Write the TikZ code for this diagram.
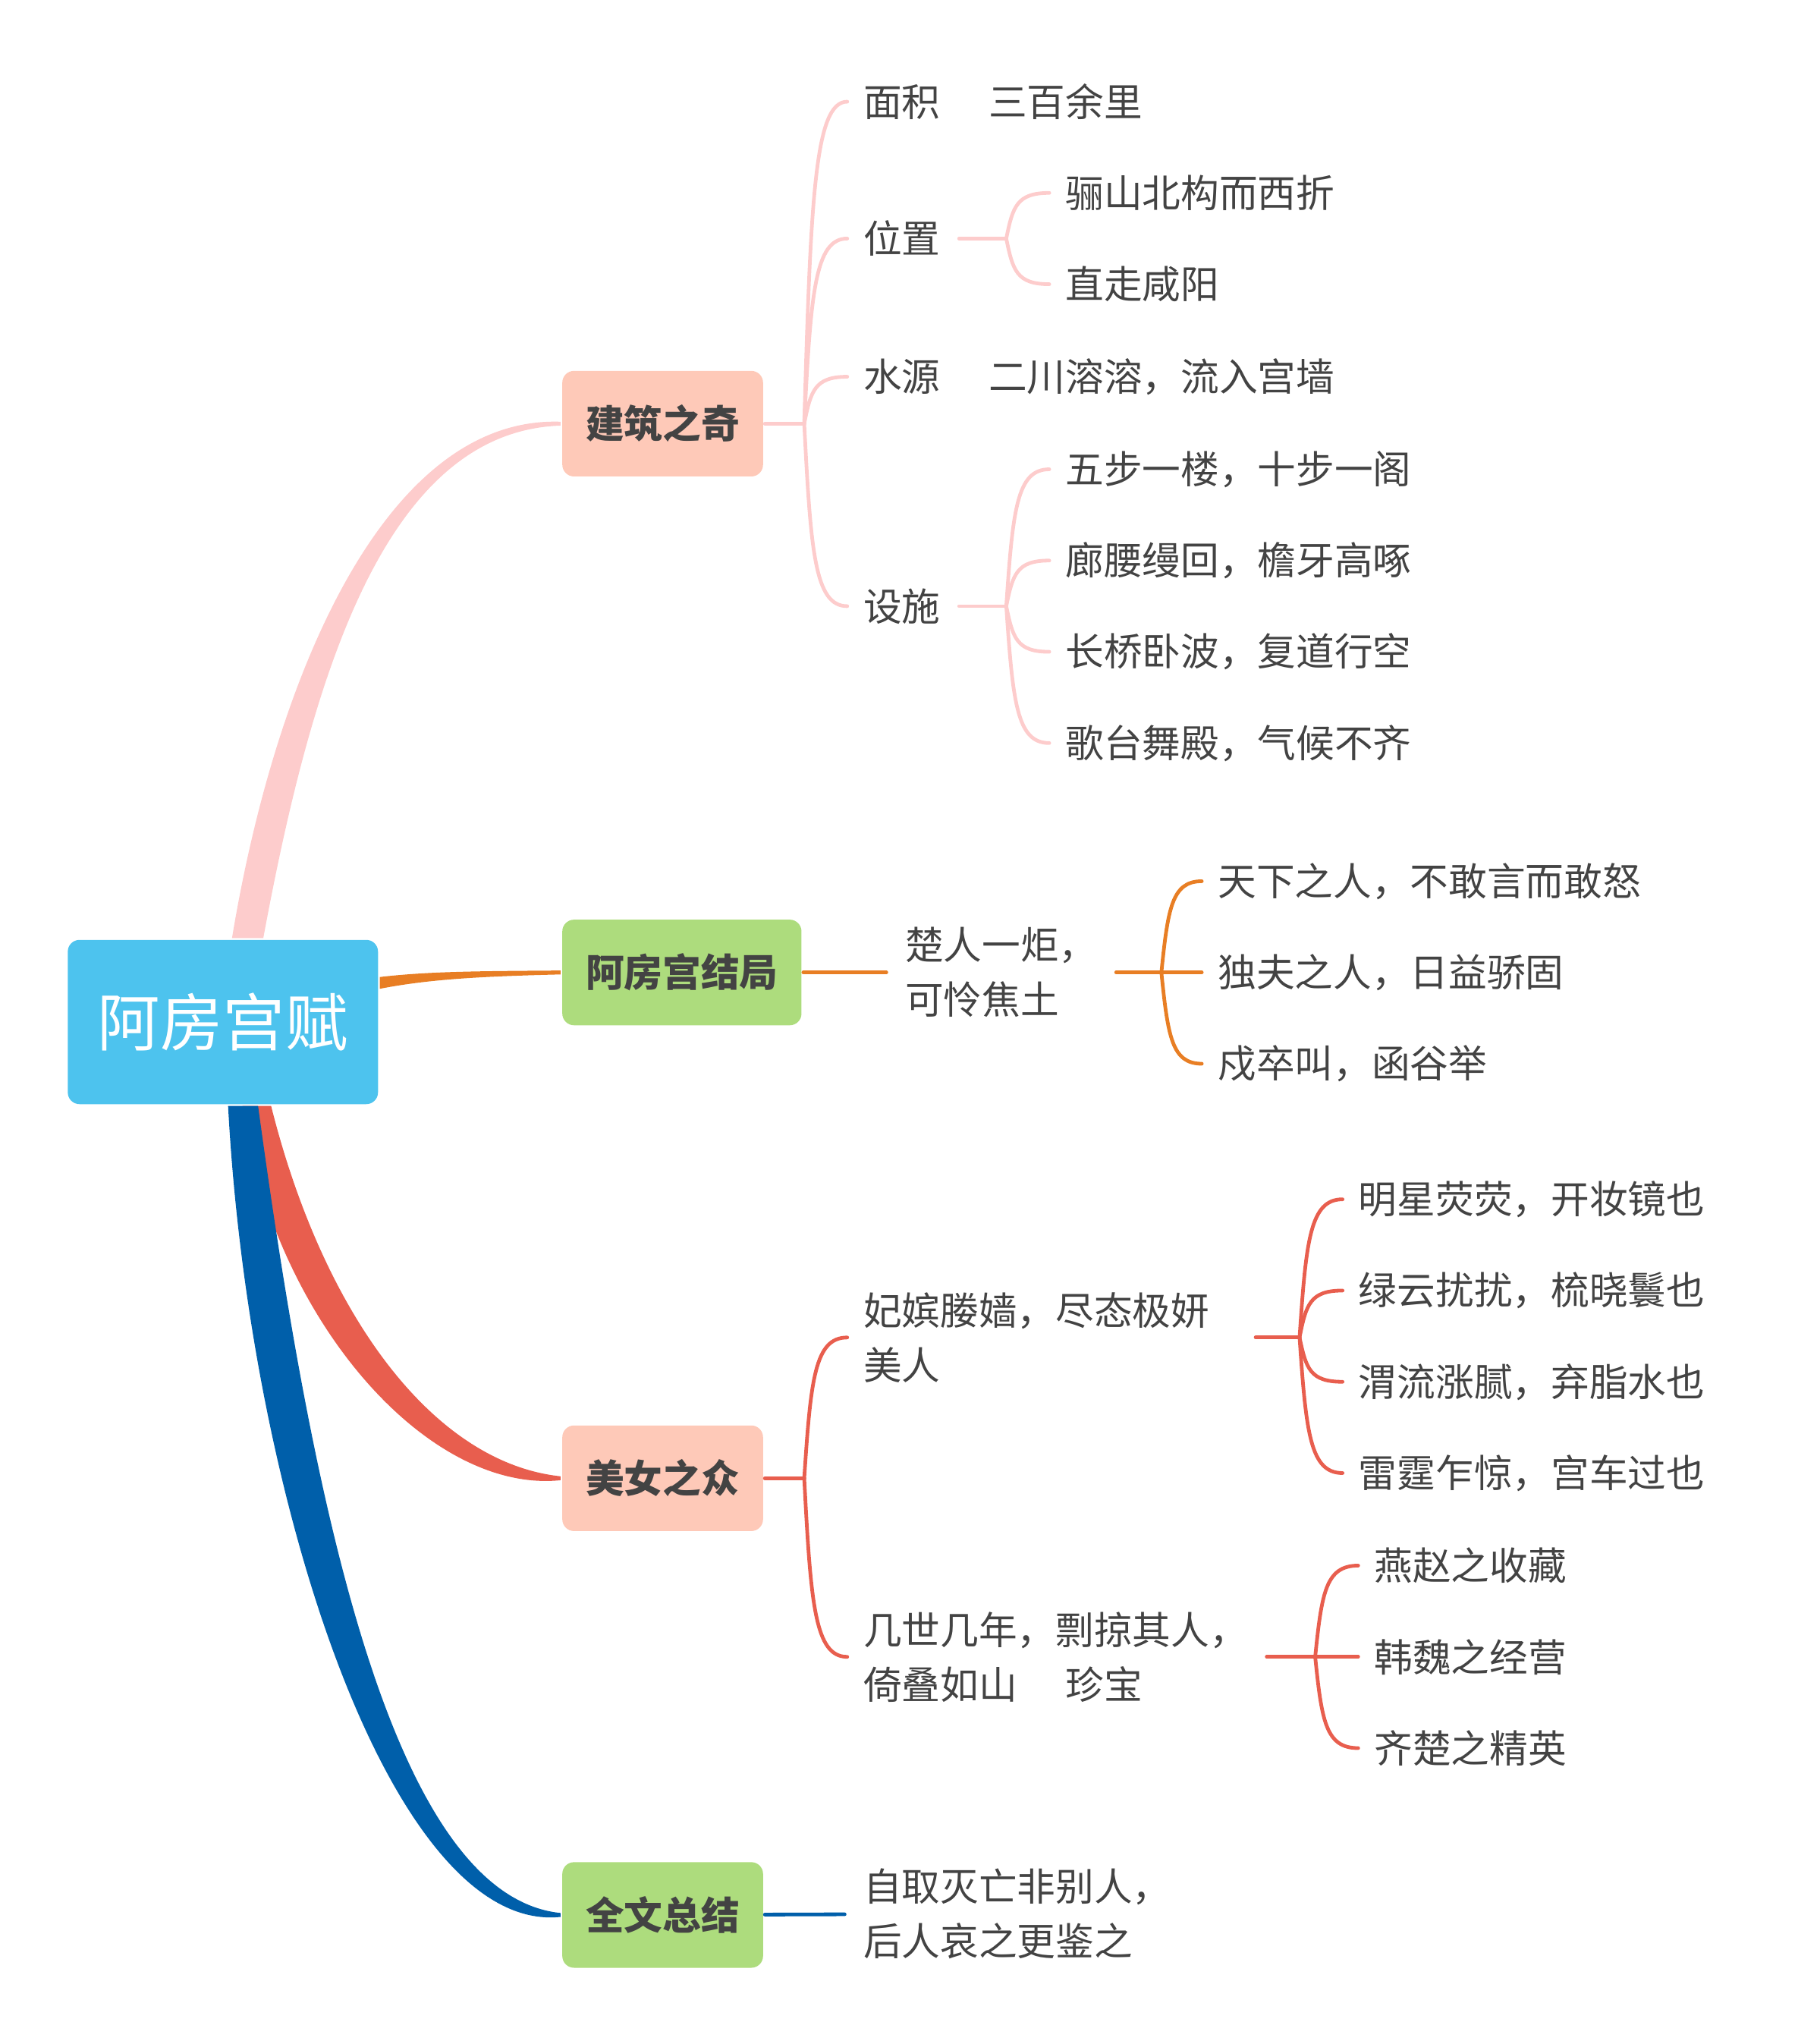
\documentclass[tikz,border=0pt]{standalone}
\usepackage{fontspec}
\newfontfamily\cjk{Noto Sans CJK SC}
\usetikzlibrary{calc}
\definecolor{rootblue}{HTML}{4DC3EE}
\definecolor{peach}{HTML}{FEC9B8}
\definecolor{leafgreen}{HTML}{ADDC7D}
\definecolor{pinkline}{HTML}{FDCCCC}
\definecolor{orangeline}{HTML}{E87E24}
\definecolor{redline}{HTML}{E85E4E}
\definecolor{blueline}{HTML}{005FAA}
\definecolor{ink}{HTML}{434343}

\begin{document}
\begin{tikzpicture}[x=1pt,y=-1pt,line width=2.8pt,line cap=round,
  root node/.style={fill=rootblue,rounded corners=9pt,text=white,minimum width=238pt,minimum height=126pt,font=\cjk\fontsize{48}{56}\selectfont},
  main node/.style={anchor=west,rounded corners=9pt,text=ink,minimum height=81pt,inner xsep=18pt,font=\cjk\bfseries\fontsize{29.5}{35}\selectfont},
  leaf/.style={anchor=west,inner xsep=13pt,inner ysep=0pt,align=left,text=ink,font=\cjk\fontsize{29.5}{42}\selectfont},
  twig/.style={to path={.. controls ($(\tikztostart)!.7!(\tikztostart |- \tikztotarget)+(5,0)$) and ($(\tikztostart |- \tikztotarget)+(8,0)$) .. ([xshift=2pt]\tikztotarget)}}]

  \useasboundingbox (0,0) rectangle (1379,1568);

  \node[root node] (root) at (171,784) {阿房宫赋};
  \node[main node,fill=peach]     (build) at (430,325)  {建筑之奇};
  \node[main node,fill=leafgreen] (fate)  at (430,746)  {阿房宫结局};
  \node[main node,fill=peach]     (belle) at (430,1134) {美女之众};
  \node[main node,fill=leafgreen] (summ)  at (430,1469) {全文总结};

  % thick branches from the root
  \fill[pinkline] ([xshift=7pt]root.north) .. controls (211,520) and (295,319) .. ([yshift=1.5pt]build.west)
    -- ([yshift=-1.5pt]build.west) .. controls (295,331) and (239,520) .. ([xshift=31pt]root.north) -- cycle;
  \fill[orangeline] ([yshift=34.5pt]root.east) .. controls (330,745) and (370,745) .. ([yshift=1.5pt]fate.west)
    -- ([yshift=-1.5pt]fate.west) .. controls (370,749) and (330,751) .. ([yshift=25.5pt]root.east) -- cycle;
  \fill[redline] ([xshift=37pt]root.south) .. controls (248,1008) and (332,1122) .. ([yshift=1.5pt]belle.west)
    -- ([yshift=-1.5pt]belle.west) .. controls (328,1146) and (210,1012) .. ([xshift=15pt]root.south) -- cycle;
  \fill[blueline] ([xshift=27pt]root.south) .. controls (239,1150) and (300,1454) .. ([yshift=1.5pt]summ.west)
    -- ([yshift=-1.5pt]summ.west) .. controls (300,1484) and (191,1150) .. ([xshift=4pt]root.south) -- cycle;

  % junctions
  \coordinate (j1)  at (617,325);
  \coordinate (j11) at (772,183);
  \coordinate (j12) at (772,465);
  \coordinate (j2)  at (891,746);
  \coordinate (j3)  at (617,1134);
  \coordinate (j31) at (997,1026);
  \coordinate (j32) at (1009,1271);

  \node[leaf] (area)  at (648,78)  {面积\hspace{37pt}三百余里};
  \node[leaf] (pos)   at (648,183) {位置};
  \node[leaf] (water) at (648,289) {水源\hspace{37pt}二川溶溶，流入宫墙};
  \node[leaf] (fac)   at (648,465) {设施};
  \node[leaf] (pos1)  at (803,148) {骊山北构而西折};
  \node[leaf] (pos2)  at (803,218) {直走咸阳};
  \node[leaf] (fac1)  at (803,360) {五步一楼，十步一阁};
  \node[leaf] (fac2)  at (803,430) {廊腰缦回，檐牙高啄};
  \node[leaf] (fac3)  at (803,500) {长桥卧波，复道行空};
  \node[leaf] (fac4)  at (803,570) {歌台舞殿，气候不齐};

  \node[leaf] (chu)   at (680,746) {楚人一炬，\\可怜焦土};
  \node[leaf] (ang1)  at (920,676) {天下之人，不敢言而敢怒};
  \node[leaf] (ang2)  at (920,746) {独夫之人，日益骄固};
  \node[leaf] (ang3)  at (920,816) {戍卒叫，函谷举};

  \node[leaf] (beauty) at (648,1026) {妃嫔媵嫱，尽态极妍\\美人};
  \node[leaf] (loot)   at (648,1271) {几世几年，剽掠其人，\\倚叠如山\hspace{37pt}珍宝};
  \node[leaf] (b1) at (1028,920)  {明星荧荧，开妆镜也};
  \node[leaf] (b2) at (1028,990)  {绿云扰扰，梳晓鬟也};
  \node[leaf] (b3) at (1028,1060) {渭流涨腻，弃脂水也};
  \node[leaf] (b4) at (1028,1130) {雷霆乍惊，宫车过也};
  \node[leaf] (t1) at (1040,1201) {燕赵之收藏};
  \node[leaf] (t2) at (1040,1271) {韩魏之经营};
  \node[leaf] (t3) at (1040,1341) {齐楚之精英};

  \node[leaf] (lesson) at (648,1468) {自取灭亡非别人，\\后人哀之更鉴之};

  \path[pinkline]
    (build) edge (j1)
    (j1) edge[twig] (area.west) edge[twig] (pos.west) edge[twig] (water.west) edge[twig] (fac.west)
    (pos) edge (j11)
    (j11) edge[twig] (pos1.west) edge[twig] (pos2.west)
    (fac) edge (j12)
    (j12) edge[twig] (fac1.west) edge[twig] (fac2.west) edge[twig] (fac3.west) edge[twig] (fac4.west);

  \path[orangeline]
    (fate) edge (chu)
    (chu) edge (j2)
    (j2) edge[twig] (ang1.west) edge[twig] (ang2.west) edge[twig] (ang3.west);

  \path[redline]
    (belle) edge (j3)
    (j3) edge[twig] (beauty.west) edge[twig] (loot.west)
    ([xshift=21pt]beauty.east) edge (j31)
    (j31) edge[twig] (b1.west) edge[twig] (b2.west) edge[twig] (b3.west) edge[twig] (b4.west)
    (loot) edge (j32)
    (j32) edge[twig] (t1.west) edge[twig] (t2.west) edge[twig] (t3.west);

  \path[blueline]
    (summ) edge (lesson);

\end{tikzpicture}
\end{document}
